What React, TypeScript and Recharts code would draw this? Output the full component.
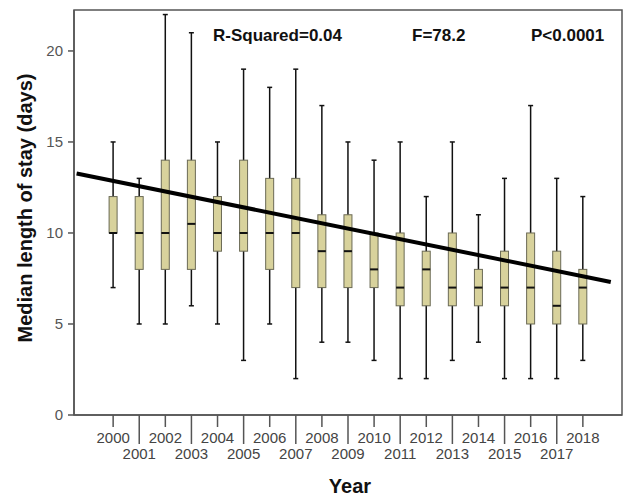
import React from 'react';
import { ComposedChart, Bar, XAxis, YAxis, ReferenceLine, ReferenceArea } from 'recharts';

// box plot per year (days)
const years = [2000, 2001, 2002, 2003, 2004, 2005, 2006, 2007, 2008, 2009,
  2010, 2011, 2012, 2013, 2014, 2015, 2016, 2017, 2018];
const whiskerLow = [7, 5, 5, 6, 5, 3, 5, 2, 4, 4, 3, 2, 2, 3, 4, 2, 2, 2, 3];
const lowerQuartile = [10, 8, 8, 8, 9, 9, 8, 7, 7, 7, 7, 6, 6, 6, 6, 6, 5, 5, 5];
const medians = [10, 10, 10, 10.5, 10, 10, 10, 10, 9, 9, 8, 7, 8, 7, 7, 7, 7, 6, 7];
const upperQuartile = [12, 12, 14, 14, 12, 14, 13, 13, 11, 11, 10, 10, 9, 10, 8, 9, 10, 9, 8];
const whiskerHigh = [15, 13, 22, 21, 15, 19, 18, 19, 17, 15, 14, 15, 12, 15, 11, 13, 17, 13, 12];

// fitted regression line end points (year, days)
const fitLine = [
  { year: 1998.6, value: 13.27 },
  { year: 2019.07, value: 7.31 },
];

const yearDomain = [1998.5, 2019.5];
const dayDomain = [0, 22.25];
const yTicks = [0, 5, 10, 15, 20];
const stats = ['R-Squared=0.04', 'F=78.2', 'P<0.0001'];
const statX = [213, 412, 531];

const data = years.map((year, i) => ({
  year,
  min: whiskerLow[i],
  q1: lowerQuartile[i],
  median: medians[i],
  q3: upperQuartile[i],
  max: whiskerHigh[i],
  range: [whiskerLow[i], whiskerHigh[i]],
}));

const FONT = '"Liberation Sans", Arial, sans-serif';
const AXIS = '#555';

const BoxShape = (props: any) => {
  const { x, y, width, height, payload } = props;
  if (x == null || y == null) return null;
  const top = Math.min(y, y + height);
  const bottom = Math.max(y, y + height);
  const span = payload.max - payload.min;
  const toPx = (v: number) => bottom - ((v - payload.min) / span) * (bottom - top);
  const cx = x + width / 2;
  const bw = 8;
  const q3y = toPx(payload.q3);
  const q1y = toPx(payload.q1);
  const my = toPx(payload.median);
  return (
    <g>
      <line x1={cx} x2={cx} y1={top} y2={bottom} stroke="#111" strokeWidth={1.5} />
      <line x1={cx - 2.5} x2={cx + 2.5} y1={top} y2={top} stroke="#111" strokeWidth={1.5} />
      <line x1={cx - 2.5} x2={cx + 2.5} y1={bottom} y2={bottom} stroke="#111" strokeWidth={1.5} />
      <rect x={cx - bw / 2} y={q3y} width={bw} height={q1y - q3y} fill="#D8D29C" stroke="#6b6a55" strokeWidth={1} />
      <line x1={cx - bw / 2} x2={cx + bw / 2} y1={my} y2={my} stroke="#111" strokeWidth={2} />
    </g>
  );
};

const YearTick = (props: any) => {
  const { x, y, payload, index } = props;
  const odd = index % 2 === 1;
  return (
    <g>
      <line x1={x} x2={x} y1={y} y2={y + (odd ? 29 : 12)} stroke={AXIS} strokeWidth={1.5} />
      <text x={x} y={y + (odd ? 44 : 28)} textAnchor="middle" fontSize={15} fill="#444" fontFamily={FONT}>
        {payload.value}
      </text>
    </g>
  );
};

const YearLabel = () => (
  <text x={350} y={493} textAnchor="middle" fontSize={20} fontWeight="bold" fill="#111" fontFamily={FONT}>
    Year
  </text>
);

const StayLabel = () => (
  <text
    x={32}
    y={208}
    transform="rotate(-90 32 208)"
    textAnchor="middle"
    fontSize={20}
    fontWeight="bold"
    fill="#111"
    fontFamily={FONT}
  >
    Median length of stay (days)
  </text>
);

export default function App() {
  return (
    <div style={{ position: 'absolute', left: 0, top: 0, width: 625, height: 496, background: '#fff' }}>
      <ComposedChart width={625} height={496} data={data} margin={{ top: 10, right: 3, bottom: 0, left: 0 }}>
        <XAxis
          dataKey="year"
          type="number"
          domain={yearDomain}
          ticks={years}
          interval={0}
          allowDataOverflow
          height={81}
          tickSize={0}
          tickMargin={0}
          tick={<YearTick />}
          axisLine={{ stroke: AXIS, strokeWidth: 1.5 }}
          label={<YearLabel />}
        />
        <YAxis
          domain={dayDomain}
          ticks={yTicks}
          allowDataOverflow
          width={74}
          tickSize={6}
          tickMargin={5}
          tick={{ fontSize: 15, fill: '#555', fontFamily: FONT }}
          tickLine={{ stroke: AXIS, strokeWidth: 1.5 }}
          axisLine={{ stroke: AXIS, strokeWidth: 1.5 }}
          label={<StayLabel />}
        />
        <ReferenceArea
          x1={yearDomain[0]}
          x2={yearDomain[1]}
          y1={dayDomain[0]}
          y2={dayDomain[1]}
          fill="none"
          stroke={AXIS}
          strokeWidth={1.5}
          ifOverflow="visible"
        />
        <Bar dataKey="range" barSize={8} shape={<BoxShape />} isAnimationActive={false} />
        <ReferenceLine
          segment={[
            { x: fitLine[0].year, y: fitLine[0].value },
            { x: fitLine[1].year, y: fitLine[1].value },
          ]}
          stroke="#000"
          strokeWidth={4}
          ifOverflow="visible"
        />
      </ComposedChart>
      {stats.map((s, i) => (
        <div
          key={s}
          style={{
            position: 'absolute',
            left: statX[i],
            top: 26,
            fontFamily: FONT,
            fontWeight: 'bold',
            fontSize: 17,
            lineHeight: '20px',
            color: '#111',
            whiteSpace: 'nowrap',
          }}
        >
          {s}
        </div>
      ))}
    </div>
  );
}
